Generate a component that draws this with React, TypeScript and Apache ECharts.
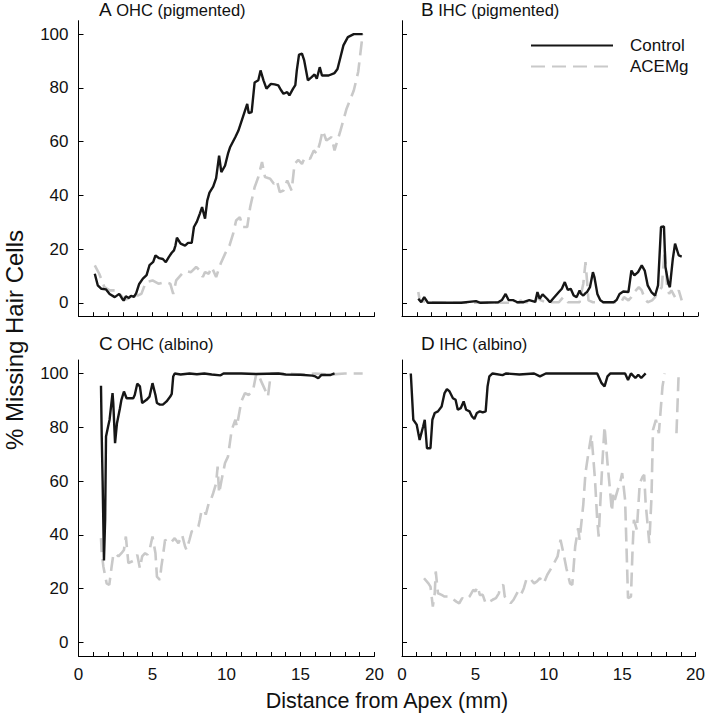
import React, { useEffect, useRef } from "react";
import * as echarts from "echarts";

const xTicks = [0, 5, 10, 15, 20];
const yTicks = [0, 20, 40, 60, 80, 100];

const panelLetters = ["A", "B", "C", "D"];
const panelNames = ["OHC (pigmented)", "IHC (pigmented)", "OHC (albino)", "IHC (albino)"];
const seriesNames = ["Control", "ACEMg"];

const aControl = [[1.1,10.8],[1.3,6.5],[1.55,5.2],[1.85,5],[2.1,3.3],[2.45,2.1],[2.75,3.3],[2.95,1.5],[3.05,0.8],[3.2,2.4],[3.4,1.8],[3.55,2.6],[3.75,2.2],[3.9,3.6],[4.1,7],[4.35,9],[4.6,10.3],[4.8,14],[5.05,15.2],[5.2,17.6],[5.45,16.6],[5.7,16.3],[5.9,15.1],[6.1,17],[6.3,18.6],[6.45,19.5],[6.55,21.3],[6.65,24.2],[6.9,22],[7.2,21.3],[7.4,22.3],[7.65,22.3],[7.8,28.2],[8.0,30.2],[8.2,33.2],[8.35,35.6],[8.55,31.3],[8.7,38],[8.85,41],[9.1,43.2],[9.3,46.4],[9.5,54.8],[9.65,48.6],[9.9,51],[10.1,55.5],[10.25,58],[10.6,61.7],[10.8,64],[11.1,69],[11.4,74],[11.5,70.6],[11.7,71],[11.9,82],[12.15,82.8],[12.3,86.5],[12.5,82.8],[12.7,79.7],[13.0,81.5],[13.25,81.3],[13.5,80.9],[13.7,79],[13.85,77.8],[14.1,78.4],[14.25,77.2],[14.5,79.7],[14.65,81],[14.75,86.5],[14.9,92.4],[15.1,92.7],[15.25,90.2],[15.5,82.8],[15.75,84],[15.95,85],[16.1,83.4],[16.3,87.7],[16.45,84.6],[16.9,84.6],[17.3,85.5],[17.5,87],[17.7,91.4],[17.9,95.8],[18.2,98.9],[18.6,100],[19.2,100]];
const aACEMg = [[1.1,13.9],[1.4,10.8],[1.75,5.8],[2.1,4.6],[2.45,4.6],[2.8,3.3],[3.1,1.1],[3.35,1.5],[3.7,3.3],[4.0,2.7],[4.25,3.3],[4.55,7.7],[5.0,8.3],[5.4,7.1],[5.85,7.7],[6.2,7.1],[6.4,3.3],[6.6,8.3],[7.0,10.8],[7.3,11.8],[7.6,11.4],[7.95,13.3],[8.2,12],[8.4,9.6],[8.55,11.4],[8.8,10.8],[9.0,13.3],[9.3,9.6],[9.6,14.5],[9.9,18.2],[10.2,21.3],[10.45,25.7],[10.65,30.6],[10.9,31.9],[11.1,28.2],[11.4,28.2],[11.6,35.6],[11.9,43],[12.15,46.8],[12.4,52.4],[12.6,46.8],[12.95,46.2],[13.2,44.3],[13.4,45.5],[13.6,41.2],[13.85,41.8],[14.1,45.5],[14.4,41.8],[14.6,51.7],[14.85,53.2],[15.1,51.7],[15.3,54.2],[15.65,53.6],[15.9,56.7],[16.1,55.5],[16.3,59.2],[16.5,64.1],[16.75,60.4],[17.1,61.7],[17.3,56.7],[17.7,64.1],[18.1,72],[18.6,79],[18.9,86],[19.2,100]];

const bControl = [[1.1,1.5],[1.3,0.2],[1.5,2.1],[1.75,0],[2.5,0],[3.0,0],[4.0,0],[5.0,0.6],[5.3,0],[6.5,0.2],[6.75,1],[7.0,3.3],[7.2,1],[7.5,1],[7.8,0.2],[8.2,0.2],[8.6,1],[9.0,0.3],[9.15,4],[9.3,1.5],[9.5,3.1],[9.8,1.5],[10.0,0.2],[10.2,1.5],[10.6,4],[10.8,5.2],[11.0,7.7],[11.2,4.8],[11.4,5.2],[11.6,2.7],[11.8,2.1],[12.0,4.6],[12.1,3.3],[12.25,2.7],[12.4,3.6],[12.5,4],[12.7,5.8],[12.9,11.4],[13.0,9.6],[13.2,3.3],[13.4,0.9],[13.6,0.2],[14.3,0.2],[14.5,1],[14.7,3.3],[14.95,4.2],[15.3,4],[15.5,12],[15.7,10.2],[15.95,11.4],[16.2,13.9],[16.4,12],[16.6,6.5],[16.85,4],[17.1,2.7],[17.3,6.5],[17.5,28.2],[17.7,28.4],[17.8,13.3],[18.0,7.1],[18.1,5.8],[18.3,16.4],[18.45,22],[18.7,17.6],[18.9,17.2]];
const bACEMg = [[1.1,4],[1.2,0.9],[1.7,0.2],[3,0],[5,0],[7.9,0],[8.0,0.9],[8.2,0.2],[9.0,0.2],[9.1,2.1],[9.4,0.9],[9.7,0.2],[10.6,0.2],[10.9,2.1],[11.2,0.2],[12.0,0.2],[12.1,3.3],[12.25,7.1],[12.4,15.1],[12.5,8.3],[12.6,0.9],[12.9,0.2],[14.8,0.2],[15.0,2.1],[15.3,0.9],[15.5,2.1],[15.7,4],[16.0,5.8],[16.2,4.6],[16.4,1.5],[16.6,0.2],[16.9,0.9],[17.1,2.1],[17.2,3.3],[17.4,4.6],[17.55,5.8],[17.75,20.1],[17.9,7.1],[18.05,3.3],[18.2,4.6],[18.45,2.1],[18.7,4.6],[18.9,0.9]];

const cControl = [[1.52,95.4],[1.57,76.6],[1.63,60],[1.72,30.5],[1.8,45.6],[1.86,76.6],[2.0,80.3],[2.1,82.8],[2.3,92.7],[2.35,89],[2.47,74.1],[2.6,81.5],[2.8,87.1],[2.9,90.2],[3.07,93.3],[3.25,90.8],[3.5,90.8],[3.7,90.8],[3.8,92],[3.97,96.2],[4.15,95.2],[4.3,89],[4.6,90.2],[4.8,91.4],[5.0,96.4],[5.2,92],[5.3,89],[5.5,88.4],[5.7,88.4],[5.95,89.6],[6.2,91.4],[6.3,92.4],[6.4,98.9],[6.5,100],[6.9,99.6],[7.5,100],[8.0,99.7],[8.5,100],[9.0,99.6],[9.6,99.3],[9.8,100],[11.0,100],[12.0,99.8],[13.5,100],[14.0,99.6],[15.0,99.5],[15.8,99.2],[16.0,98.9],[16.2,98.2],[16.4,99.4],[17.0,99.4],[17.3,100]];
const cACEMg = [[1.52,38.8],[1.57,33.2],[1.68,28.3],[1.9,22],[2.08,21.4],[2.24,28.3],[2.35,32.6],[2.5,33.2],[2.7,32],[2.9,33.2],[3.07,34.4],[3.2,39.4],[3.37,29.5],[3.6,30.1],[3.8,30.7],[3.97,32.6],[4.15,27.6],[4.3,32],[4.5,33.2],[4.65,32.6],[4.8,34.4],[5.0,39.4],[5.2,33.2],[5.3,24.5],[5.5,23.3],[5.6,28.3],[5.7,32],[5.85,38.2],[6.07,36.9],[6.3,37.5],[6.5,38.8],[6.75,36.9],[7.0,40],[7.2,35.7],[7.3,34.4],[7.5,38.2],[7.65,41.3],[7.9,41.9],[8.1,43.1],[8.2,45.6],[8.3,48.7],[8.5,49.3],[8.6,47.5],[8.8,51.8],[8.9,52.4],[9.1,55.5],[9.3,59.2],[9.4,65.4],[9.5,55.5],[9.67,60.5],[9.9,66.7],[10.1,69.1],[10.35,79],[10.6,82.8],[10.7,80.3],[11.0,89.6],[11.25,92.7],[11.5,92],[11.8,93.9],[12.0,99.5],[12.15,100],[12.3,97.6],[12.5,95.2],[12.7,92.7],[12.8,91.4],[13.0,100],[14,100],[15,99.6],[16,100],[17,99.6],[18,100],[19.2,100]];

const dControl = [[0.6,100],[0.77,82.8],[1.0,81],[1.2,75.3],[1.44,80.3],[1.55,82.8],[1.7,72.2],[1.94,72.2],[2.07,82.8],[2.23,85.3],[2.45,85.9],[2.7,87.7],[2.9,92.7],[3.06,94.2],[3.24,93.3],[3.47,90.8],[3.65,90.2],[3.8,86.5],[4.0,87.1],[4.2,89.6],[4.37,86.5],[4.6,85.9],[4.77,84],[4.93,83.1],[5.1,85.3],[5.3,85.9],[5.5,85.5],[5.7,85.9],[5.83,95.2],[5.95,98.9],[6.17,100],[6.85,99.4],[7.1,100],[8.0,99.6],[9.0,100],[9.4,98.9],[9.8,100],[13.3,100],[13.6,96.4],[13.8,95.2],[14.0,98.9],[14.2,100],[15.2,100],[15.4,97.6],[15.6,100],[15.9,98.3],[16.1,99.5],[16.3,98.3],[16.6,100]];
const dACEMg = [[1.5,23.9],[1.8,22],[1.94,20.8],[2.1,13.4],[2.23,18.3],[2.3,26.4],[2.45,18.3],[2.7,17.7],[2.9,17.1],[3.24,17.1],[3.7,15.2],[3.9,14.6],[4.1,16.5],[4.37,15.9],[4.6,17.1],[4.86,19.6],[5.0,19],[5.16,20.8],[5.3,17.7],[5.5,17.7],[5.7,14.6],[5.95,15.2],[6.17,15.9],[6.4,16.5],[6.6,18.3],[6.7,20.8],[6.9,21.4],[7.0,17.1],[7.2,15.9],[7.4,14.6],[7.6,15.9],[7.9,19],[8.1,17.7],[8.3,20.2],[8.5,23.9],[8.8,23.3],[9.0,22],[9.2,22.7],[9.4,23.9],[9.66,22],[9.9,25.2],[10.1,27],[10.3,28.9],[10.6,32],[10.8,38.2],[11.0,33.2],[11.2,27.6],[11.45,22],[11.6,21.4],[11.8,35.7],[12.0,42.5],[12.1,38.2],[12.35,51.2],[12.5,63],[12.7,70.4],[12.9,77.2],[13.0,71],[13.15,60.5],[13.3,45.6],[13.4,39.4],[13.5,50.6],[13.65,66.7],[13.8,80.3],[14.0,66.7],[14.15,58],[14.3,48.7],[14.4,55.5],[14.5,53],[14.7,56.8],[14.85,59.2],[15.0,63],[15.2,53],[15.4,16.5],[15.6,17.1],[15.7,33.2],[15.8,45.6],[16.0,41.9],[16.1,50.6],[16.2,59.2],[16.4,61.7],[16.5,62.3],[16.6,51.8],[16.85,36.9],[17.0,54.2],[17.1,79],[17.3,82.8],[17.5,77.8],[17.75,95.2],[17.9,100],[18.3,"-"],[18.7,77.8],[18.85,100]];

const controlData = [aControl, bControl, cControl, dControl];
const acemgData = [aACEMg, bACEMg, cACEMg, dACEMg];

const FONT = "'Liberation Sans', Arial, Helvetica, sans-serif";
const BLACK = "#161616";
const GRAY = "#c9c9c9";

export default function App() {
  const ref = useRef<HTMLDivElement>(null);
  useEffect(() => {
    if (!ref.current) return;
    const chart = echarts.init(ref.current, null, { renderer: "svg" });
    const grids = [
      { left: 78.5, top: 20.7, width: 296, height: 295.5 },
      { left: 402, top: 20.7, width: 296, height: 295.5 },
      { left: 78.5, top: 360, width: 296, height: 296 },
      { left: 402, top: 360, width: 296, height: 296 },
    ];
    const xAxes = grids.map((_, i) => ({
      type: "value",
      gridIndex: i,
      min: 0,
      max: 20,
      interval: 5,
      axisLine: { onZero: false, lineStyle: { color: "#000", width: 1 } },
      axisTick: { show: true, inside: true, length: 4, lineStyle: { color: "#000" } },
      minorTick: { show: true, splitNumber: 5, length: 4, lineStyle: { color: "#000" } },
      splitLine: { show: false },
      axisLabel: {
        show: i >= 2,
        margin: 10,
        fontSize: 17,
        color: "#111",
        fontFamily: FONT,
        customValues: xTicks,
      },
    }));
    const yAxes = grids.map((_, i) => ({
      type: "value",
      gridIndex: i,
      min: -5,
      max: 105,
      axisLine: { onZero: false, lineStyle: { color: "#000", width: 1 } },
      axisTick: { show: true, inside: true, length: 5, customValues: yTicks, lineStyle: { color: "#000" } },
      splitLine: { show: false },
      axisLabel: {
        show: i % 2 === 0,
        margin: 10,
        fontSize: 17,
        color: "#111",
        fontFamily: FONT,
        customValues: yTicks,
      },
    }));
    const series: any[] = [];
    for (let i = 0; i < 4; i++) {
      series.push({
        name: seriesNames[1],
        type: "line",
        xAxisIndex: i,
        yAxisIndex: i,
        data: acemgData[i],
        showSymbol: false,
        symbol: "none",
        z: 2,
        lineStyle: { color: GRAY, width: 2.6, type: [14, 7] },
        itemStyle: { color: GRAY },
      });
      series.push({
        name: seriesNames[0],
        type: "line",
        xAxisIndex: i,
        yAxisIndex: i,
        data: controlData[i],
        showSymbol: false,
        symbol: "none",
        z: 3,
        lineStyle: { color: BLACK, width: 2.4 },
        itemStyle: { color: BLACK },
      });
    }
    const titlePos = [
      { left: 99, top: 0 },
      { left: 421, top: 0 },
      { left: 99, top: 334 },
      { left: 421, top: 334 },
    ];
    const titles = panelLetters.map((L, i) => ({
      text: `{l|${L}}{t| ${panelNames[i]}}`,
      left: titlePos[i].left,
      top: titlePos[i].top,
      padding: 0,
      textStyle: {
        fontWeight: "normal",
        rich: {
          l: { fontSize: 19, color: "#111", fontFamily: FONT, fontWeight: "normal" },
          t: { fontSize: 16.5, color: "#111", fontFamily: FONT, fontWeight: "normal" },
        },
      },
    }));
    chart.setOption({
      animation: false,
      backgroundColor: "#fff",
      title: titles,
      grid: grids,
      xAxis: xAxes,
      yAxis: yAxes,
      legend: {
        data: seriesNames,
        orient: "vertical",
        left: 530,
        top: 37,
        itemWidth: 82,
        itemHeight: 2,
        itemGap: 4,
        padding: 0,
        itemStyle: { opacity: 0 },
        textStyle: { fontSize: 17, color: "#111", fontFamily: FONT, padding: [0, 0, 0, 12] },
      },
      graphic: [
        {
          type: "text",
          x: 14,
          y: 340,
          rotation: Math.PI / 2,
          style: {
            text: "% Missing Hair Cells",
            fontSize: 24,
            fontFamily: FONT,
            fill: "#111",
            align: "center",
            verticalAlign: "middle",
          },
        },
        {
          type: "text",
          x: 387,
          y: 701,
          style: {
            text: "Distance from Apex (mm)",
            fontSize: 21.5,
            fontFamily: FONT,
            fill: "#111",
            align: "center",
            verticalAlign: "middle",
          },
        },
      ],
      series,
    });
    return () => chart.dispose();
  }, []);
  return (
    <div
      ref={ref}
      style={{ position: "fixed", left: 0, top: 0, width: 708, height: 713 }}
    />
  );
}
